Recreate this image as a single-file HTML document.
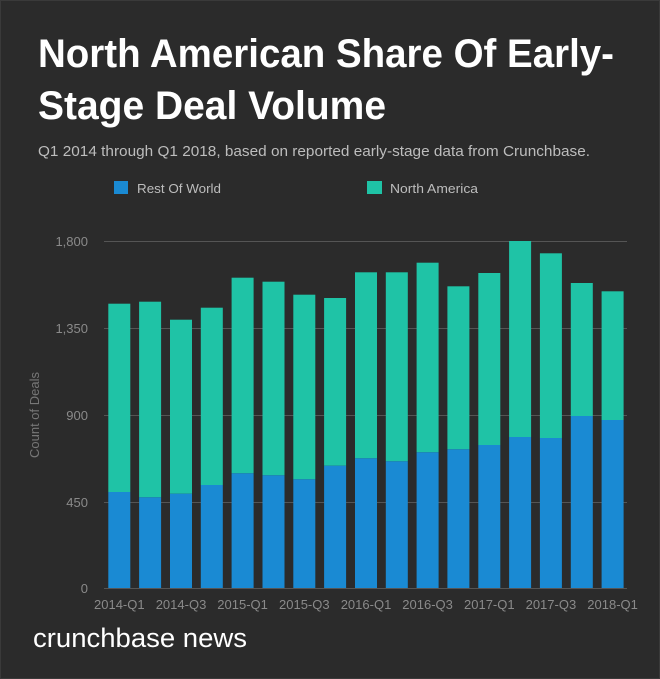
<!DOCTYPE html>
<html><head><meta charset="utf-8"><style>
html,body{margin:0;padding:0;background:#2b2b2b;}
svg{display:block;}
</style></head><body>
<svg width="660" height="679" xmlns="http://www.w3.org/2000/svg" font-family="'Liberation Sans', sans-serif">
<rect x="0" y="0" width="660" height="679" fill="#2b2b2b"/>
<rect x="0.5" y="0.5" width="659" height="678" fill="none" stroke="#3a3a3a"/>
<text x="38" y="67" fill="#fff" font-size="40" font-weight="bold" textLength="576" lengthAdjust="spacingAndGlyphs">North American Share Of Early-</text>
<text x="38" y="119" fill="#fff" font-size="40" font-weight="bold" textLength="348" lengthAdjust="spacingAndGlyphs">Stage Deal Volume</text>
<text x="38" y="156" fill="#bdbdbd" font-size="15" textLength="552" lengthAdjust="spacingAndGlyphs">Q1 2014 through Q1 2018, based on reported early-stage data from Crunchbase.</text>
<rect x="114" y="181" width="14" height="13" fill="#1a8ad3"/>
<text x="137" y="193" fill="#bdbdbd" font-size="13" textLength="84" lengthAdjust="spacingAndGlyphs">Rest Of World</text>
<rect x="367" y="181" width="15" height="13" fill="#1fc3a6"/>
<text x="390" y="193" fill="#bdbdbd" font-size="13" textLength="88" lengthAdjust="spacingAndGlyphs">North America</text>
<g stroke="#555" stroke-width="1">
<line x1="104" x2="627" y1="241.5" y2="241.5"/>
<line x1="104" x2="627" y1="328.5" y2="328.5"/>
<line x1="104" x2="627" y1="415.5" y2="415.5"/>
<line x1="104" x2="627" y1="502.5" y2="502.5"/>
</g>
<g fill="#8a8a8a" font-size="13" text-anchor="end">
<text x="88" y="246">1,800</text>
<text x="88" y="333">1,350</text>
<text x="88" y="420">900</text>
<text x="88" y="507">450</text>
<text x="88" y="593">0</text>
</g>
<text transform="translate(39,415) rotate(-90)" fill="#777" font-size="13" text-anchor="middle">Count of Deals</text>
<g fill="#1fc3a6">
<rect x="108.3" y="303.7" width="22" height="188.3"/>
<rect x="139.1" y="301.7" width="22" height="195.6"/>
<rect x="170.0" y="319.7" width="22" height="174"/>
<rect x="200.8" y="307.7" width="22" height="177.3"/>
<rect x="231.6" y="277.7" width="22" height="195.6"/>
<rect x="262.5" y="281.7" width="22" height="193.6"/>
<rect x="293.3" y="294.7" width="22" height="184.6"/>
<rect x="324.1" y="298" width="22" height="167.7"/>
<rect x="355.0" y="272.3" width="22" height="186"/>
<rect x="385.8" y="272.3" width="22" height="189"/>
<rect x="416.6" y="262.7" width="22" height="189.6"/>
<rect x="447.4" y="286.3" width="22" height="163"/>
<rect x="478.3" y="273" width="22" height="172"/>
<rect x="509.1" y="241" width="22" height="196"/>
<rect x="539.9" y="253.3" width="22" height="184.7"/>
<rect x="570.8" y="283" width="22" height="133"/>
<rect x="601.6" y="291.3" width="22" height="128.7"/>
</g>
<g fill="#1a8ad3">
<rect x="108.3" y="492" width="22" height="96.3"/>
<rect x="139.1" y="497.3" width="22" height="91"/>
<rect x="170.0" y="493.7" width="22" height="94.6"/>
<rect x="200.8" y="485" width="22" height="103.3"/>
<rect x="231.6" y="473.3" width="22" height="115"/>
<rect x="262.5" y="475.3" width="22" height="113"/>
<rect x="293.3" y="479.3" width="22" height="109"/>
<rect x="324.1" y="465.7" width="22" height="122.6"/>
<rect x="355.0" y="458.3" width="22" height="130"/>
<rect x="385.8" y="461.3" width="22" height="127"/>
<rect x="416.6" y="452.3" width="22" height="136"/>
<rect x="447.4" y="449.3" width="22" height="139"/>
<rect x="478.3" y="445" width="22" height="143.3"/>
<rect x="509.1" y="437" width="22" height="151.3"/>
<rect x="539.9" y="438" width="22" height="150.3"/>
<rect x="570.8" y="416" width="22" height="172.3"/>
<rect x="601.6" y="420" width="22" height="168.3"/>
</g>
<line x1="104" x2="627" y1="588.5" y2="588.5" stroke="#555"/>
<g fill="#8a8a8a" font-size="13" text-anchor="middle">
<text x="119.3" y="609">2014-Q1</text>
<text x="181.0" y="609">2014-Q3</text>
<text x="242.6" y="609">2015-Q1</text>
<text x="304.3" y="609">2015-Q3</text>
<text x="366.0" y="609">2016-Q1</text>
<text x="427.6" y="609">2016-Q3</text>
<text x="489.3" y="609">2017-Q1</text>
<text x="550.9" y="609">2017-Q3</text>
<text x="612.6" y="609">2018-Q1</text>
</g>
<text x="33" y="647" fill="#fff" font-size="27" textLength="214" lengthAdjust="spacingAndGlyphs">crunchbase news</text>
</svg>
</body></html>
